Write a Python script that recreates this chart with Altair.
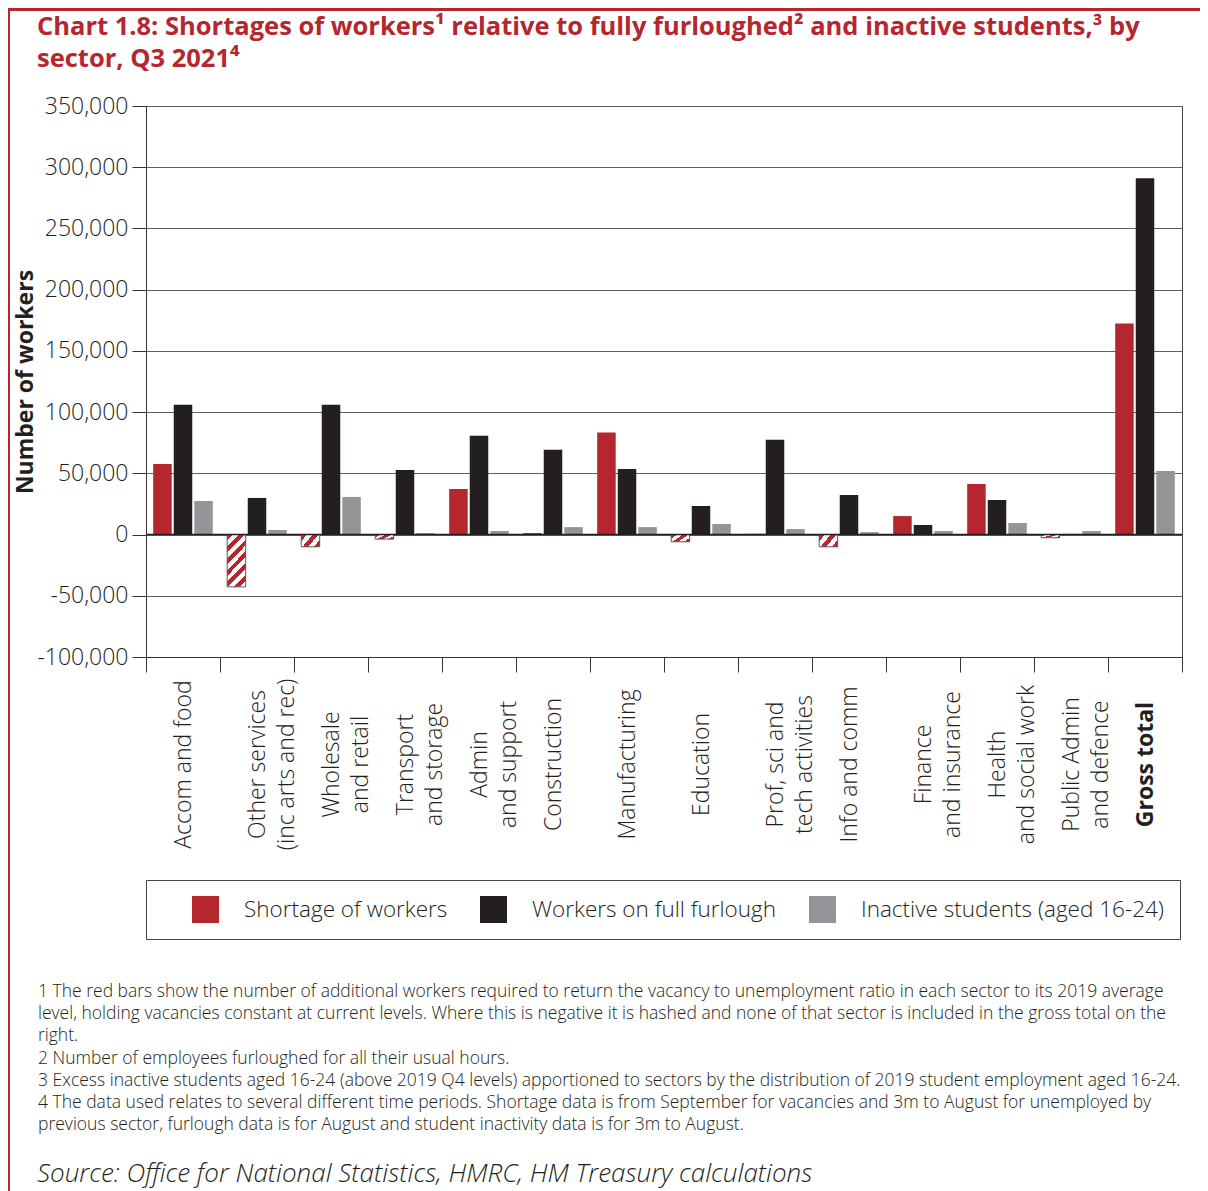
import altair as alt
import pandas as pd

sectors = [
    "Accom and food",
    "Other services\n(inc arts and rec)",
    "Wholesale\nand retail",
    "Transport\nand storage",
    "Admin\nand support",
    "Construction",
    "Manufacturing",
    "Education",
    "Prof, sci and\ntech activities",
    "Info and comm",
    "Finance\nand insurance",
    "Health\nand social work",
    "Public Admin\nand defence",
    "Gross total",
]
series = ["Shortage of workers", "Workers on full furlough", "Inactive students (aged 16-24)"]
shortage = [57700, -42700, -10000, -3700, 37200, 1200, 83300, -5900, 600, -10000, 15100, 41300, -2600, 172300]
furlough = [106000, 29900, 106000, 52800, 80600, 69200, 53600, 23300, 77400, 32300, 7800, 28200, 500, 291000]
students = [27400, 3700, 30700, 1200, 2900, 6100, 6100, 8600, 4500, 2000, 2900, 9400, 2900, 52000]
y_ticks = [-100000, -50000, 0, 50000, 100000, 150000, 200000, 250000, 300000, 350000]

title_lines = [
    "Chart 1.8: Shortages of workers\u00b9 relative to fully furloughed\u00b2 and inactive students,\u00b3 by",
    "sector, Q3 2021\u2074",
]
footnotes = [
    "1 The red bars show the number of additional workers required to return the vacancy to unemployment ratio in each sector to its 2019 average",
    "level, holding vacancies constant at current levels.  Where this is negative it is hashed and none of that sector is included in the gross total on the",
    "right.",
    "2 Number of employees furloughed for all their usual hours.",
    "3 Excess inactive students aged 16-24 (above 2019 Q4 levels) apportioned to sectors by the distribution of 2019 student employment aged 16-24.",
    "4 The data used relates to several different time periods.  Shortage data is from September for vacancies and 3m to August for unemployed by",
    "previous sector, furlough data is for August and student inactivity data is for 3m to August.",
]
source = "Source: Office for National Statistics, HMRC, HM Treasury calculations"

RED = "#B5262E"
BLACK = "#231F20"
GREY = "#939598"
TXT = "#231F20"
FONT = "Open Sans"

rows = []
for i, s in enumerate(sectors):
    rows.append({"sector": s, "series": series[0], "value": shortage[i]})
    rows.append({"sector": s, "series": series[1], "value": furlough[i]})
    rows.append({"sector": s, "series": series[2], "value": students[i]})
df = pd.DataFrame(rows)

W, H = 1036, 551
PAD_B = 534


def stripes(n_seg, x2, y2):
    stops = []
    for k in range(n_seg):
        c = RED if k % 2 == 0 else "#FFFFFF"
        stops.append({"offset": k / n_seg, "color": c})
        stops.append({"offset": (k + 1) / n_seg, "color": c})
    return {"gradient": "linear", "x1": 0, "y1": 0, "x2": x2, "y2": y2, "stops": stops}


x_enc = alt.X(
    "sector:N",
    sort=sectors,
    scale=alt.Scale(domain=sectors, paddingInner=0, paddingOuter=0),
    axis=alt.Axis(
        title=None,
        labelAngle=-90,
        labelAlign="center",
        labelBaseline="middle",
        labelPadding=92,
        labelFontSize=23,
        labelFont=FONT,
        labelFontWeight={"condition": {"test": "datum.value === 'Gross total'", "value": "bold"}, "value": 300},
        labelLineHeight=29,
        labelColor=TXT,
        labelExpr="split(datum.label, '\\n')",
        tickBand="extent",
        tickSize=15,
        tickColor="#333333",
        domainColor="#333333",
        labelLimit=300,
    ),
)
xo_enc = alt.XOffset("series:N", sort=series, scale=alt.Scale(domain=series, paddingInner=0.1, paddingOuter=0.35))
y_enc = alt.Y(
    "value:Q",
    scale=alt.Scale(domain=[-100000, 350000], nice=False, zero=False),
    axis=alt.Axis(
        values=y_ticks,
        format=",.0f",
        labelExpr="replace(datum.label, '\u2212', '-')",
        labelFontSize=23,
        labelFont=FONT,
        labelFontWeight=300,
        labelColor=TXT,
        labelPadding=4,
        tickSize=14,
        tickColor="#333333",
        domainColor="#333333",
        gridColor="#5F6062",
        gridWidth=1,
        title="Number of workers",
        titleFont=FONT,
        titleFontSize=23,
        titleFontWeight="bold",
        titleColor=TXT,
        titleX=-121,
        titleY=H / 2,
        titleAngle=-90,
        titleAlign="center",
        titleBaseline="middle",
    ),
)

base = alt.Chart(df).encode(x=x_enc, xOffset=xo_enc, y=y_enc)

bars = base.mark_bar().encode(
    color=alt.Color(
        "series:N",
        scale=alt.Scale(domain=series, range=[RED, BLACK, GREY]),
        legend=alt.Legend(
            orient="none",
            legendX=0,
            legendY=774,
            direction="horizontal",
            title=" ",
            titleOrient="left",
            titlePadding=30,
            titleFontSize=21,
            symbolType="square",
            symbolSize=729,
            symbolStrokeWidth=0,
            symbolOpacity=1,
            labelFontSize=22.5,
            labelFont=FONT,
            labelFontWeight=300,
            labelColor=TXT,
            labelOffset=25,
            labelLimit=400,
            columnPadding=32,
            padding=16,
            strokeColor="#444444",
        ),
    )
).transform_filter("datum.value >= 0 || datum.series != 'Shortage of workers'")

hatch_big = base.mark_bar(fill=stripes(12, 0.432, 1.2), stroke="#58595B", strokeWidth=1).transform_filter(
    "datum.series == 'Shortage of workers' && datum.value < -20000"
)
hatch_small = base.mark_bar(fill=stripes(5, 1.19, 0.645), stroke="#58595B", strokeWidth=1).transform_filter(
    "datum.series == 'Shortage of workers' && datum.value < 0 && datum.value >= -20000"
)

zero = alt.Chart(pd.DataFrame({"value": [0]})).mark_rule(color="#231F20", strokeWidth=1.5).encode(y="value:Q")

one = pd.DataFrame({"k": [0]})
title = alt.Chart(one).mark_text(
    text=title_lines, align="left", baseline="top", fontSize=25.5, font=FONT, fontWeight="bold",
    lineHeight=32, color=RED,
).encode(x=alt.value(-109), y=alt.value(-91))
foot = alt.Chart(one).mark_text(
    text=footnotes, align="left", baseline="top", fontSize=17.5, font=FONT, fontWeight=300,
    lineHeight=22.2, color=TXT,
).encode(x=alt.value(-108), y=alt.value(877))
src = alt.Chart(one).mark_text(
    text=source, align="left", baseline="top", fontSize=26, font=FONT, fontWeight=300,
    fontStyle="italic", color=TXT,
).encode(x=alt.value(-109), y=alt.value(1055))

frame_top = alt.Chart(one).mark_rule(color=RED, strokeWidth=3).encode(
    x=alt.value(-138), x2=alt.value(W + 18), y=alt.value(-96.5)
)
frame_left = alt.Chart(one).mark_rule(color=RED, strokeWidth=2).encode(
    x=alt.value(-137), y=alt.value(-98), y2=alt.value(H + PAD_B)
)

chart = alt.layer(bars, hatch_big, hatch_small, zero, title, foot, src, frame_top, frame_left).properties(
    width=W,
    height=H,
    padding={"left": 138, "top": 98, "right": 18, "bottom": PAD_B},
    autosize=alt.AutoSizeParams(type="none"),
).configure_view(stroke="#444444", strokeWidth=1).configure_legend(strokeWidth=1)

chart.save("out.html", embed_options={"renderer": "svg", "actions": False})
